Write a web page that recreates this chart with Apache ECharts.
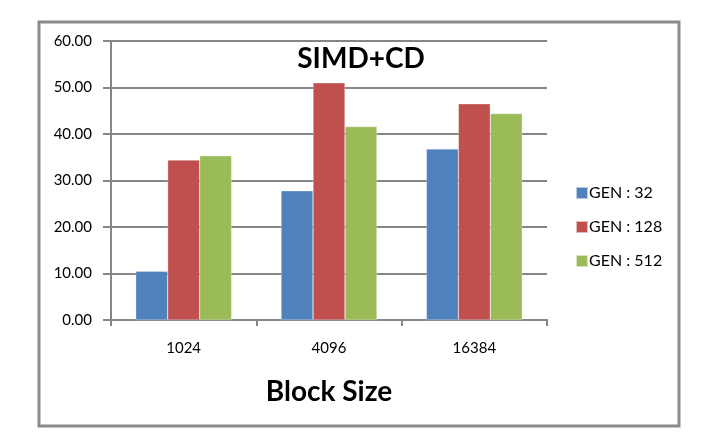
<!DOCTYPE html>
<html>
<head>
<meta charset="utf-8">
<script src="https://cdn.jsdelivr.net/npm/echarts@6/dist/echarts.min.js"></script>
<style>
  html, body { margin: 0; padding: 0; background: #fff; }
  #chart { width: 708px; height: 434px; }
</style>
</head>
<body>
<div id="chart"></div>
<script>
var blockSizes = ["1024", "4096", "16384"];
var gen32 = [10.5, 27.8, 36.8];
var gen128 = [34.4, 51.0, 46.5];
var gen512 = [35.3, 41.6, 44.4];
var seriesNames = ["GEN : 32", "GEN : 128", "GEN : 512"];
var colors = ["#4F81BD", "#C0504D", "#9BBB59"];

var font = "Lato, 'Noto Sans', sans-serif";

function barSeries(name, data, color) {
    return {
        name: name,
        type: "bar",
        data: data,
        barGap: "0%",
        barCategoryGap: "34%",
        itemStyle: { color: color, borderColor: "rgba(255,255,255,0.6)", borderWidth: 0.5 }
    };
}

var chart = echarts.init(document.getElementById("chart"));
chart.setOption({
    animation: false,
    backgroundColor: "#fff",
    title: {
        text: "SIMD+CD",
        left: 356,
        top: 40,
        textAlign: "center",
        textStyle: { fontFamily: font, fontSize: 28, fontWeight: "bold", color: "#000" }
    },
    legend: {
        orient: "vertical",
        left: 570,
        top: 180,
        itemWidth: 12,
        itemHeight: 12,
        itemGap: 18,
        icon: "rect",
        data: seriesNames,
        textStyle: { fontFamily: font, fontSize: 16, color: "#000", padding: [0, 0, 0, -4] }
    },
    graphic: [{
        type: "rect",
        shape: { x: 39, y: 22, width: 640, height: 404 },
        style: { fill: null, stroke: "#8a8a8a", lineWidth: 3 },
        z: -1
    }],
    grid: { left: 111, right: 161, top: 41, bottom: 114 },
    xAxis: {
        type: "category",
        data: blockSizes,
        name: "Block Size",
        nameLocation: "middle",
        nameGap: 58,
        nameTextStyle: { fontFamily: font, fontSize: 28, fontWeight: "bold", color: "#000" },
        axisLine: { lineStyle: { color: "#868686", width: 2 } },
        axisTick: { show: true, length: 6, lineStyle: { color: "#868686", width: 2 } },
        axisLabel: { fontFamily: font, fontSize: 15, color: "#000", margin: 21 }
    },
    yAxis: {
        type: "value",
        min: 0,
        max: 60,
        interval: 10,
        axisLine: { show: true, lineStyle: { color: "#868686", width: 2 } },
        axisTick: { show: true, length: 8, lineStyle: { color: "#868686", width: 2 } },
        splitLine: { lineStyle: { color: "#868686", width: 2 } },
        axisLabel: {
            fontFamily: font, fontSize: 15, color: "#000", margin: 19,
            formatter: function (v) { return v.toFixed(2); }
        }
    },
    series: [
        barSeries(seriesNames[0], gen32, colors[0]),
        barSeries(seriesNames[1], gen128, colors[1]),
        barSeries(seriesNames[2], gen512, colors[2])
    ]
});
</script>
</body>
</html>
